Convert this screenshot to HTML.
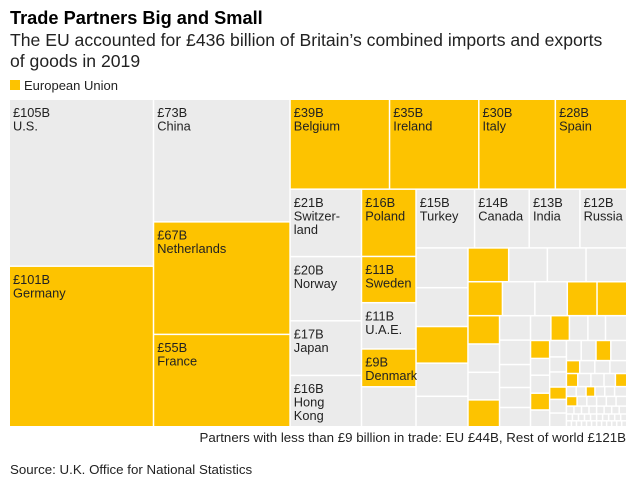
<!DOCTYPE html>
<html><head><meta charset="utf-8"><style>
body{margin:0;background:#fff;font-family:"Liberation Sans",sans-serif;}
#wrap{position:relative;width:634px;height:483px;overflow:hidden;}
</style></head><body>
<div id="wrap">
<svg id="svg" width="634" height="483" viewBox="0 0 634 483">
<text x="10" y="24" font-size="18.2" font-weight="bold" fill="#000">Trade Partners Big and Small</text>
<text x="10" y="46" font-size="17.6" fill="#222">The EU accounted for £436 billion of Britain’s combined imports and exports</text>
<text x="10" y="67" font-size="17.6" fill="#222">of goods in 2019</text>
<rect x="10" y="80" width="10" height="10" fill="#fdc300"/>
<text x="24" y="90" font-size="13" fill="#222">European Union</text>
<g id="cells"></g>
<text x="626" y="442" font-size="13.3" fill="#222" text-anchor="end">Partners with less than £9 billion in trade: EU £44B, Rest of world £121B</text>
<text x="10" y="474" font-size="13.3" fill="#222">Source: U.K. Office for National Statistics</text>
</svg>
</div>
<script>
const names = ["U.S.","Germany","China","Netherlands","France","Belgium","Ireland","Italy","Spain","Switzer-\nland","Norway","Japan","Hong\nKong","Poland","Turkey","Canada","India","Russia","Sweden","U.A.E.","Denmark"];
const values = [105,101,73,67,55,39,35,30,28,21,20,17,16,16,15,14,13,12,11,11,9];
const isEU = [0,1,0,1,1,1,1,1,1,0,0,0,0,1,0,0,0,0,1,0,1];
const smallValues = [9.5,
 9.0,8.8,8.3,7.5,6.9,
 6.0,5.7,5.7,6.0,
 5.1,4.8,4.8,4.4,4.4,
 3.9,3.9,3.8,3.7,
 3.3,3.3,3.1,2.7,2.6,
 2.2,2.0,2.0,1.9,2.3,
 1.5,1.4,1.5,1.4,1.4,
 1.2,1.1,1.1,0.9,1.0,1.0,
 1.3,1.3,1.3,1.4,
 0.75,0.85,0.85,0.95,
 0.65,0.75,0.75,0.65,0.65,
 0.42,0.42,0.38,0.42,0.42,0.52,
 0.45,0.41,0.41,0.41,0.41,0.45,
 0.26,0.26,0.26,0.26,0.26,0.26,0.26,0.26,
 0.18,0.18,0.18,0.18,0.18,0.18,0.18,0.18,0.18,0.18,
 0.13,0.13,0.13,0.13,0.13,0.13,0.13,0.13,0.13,0.13,0.13,0.13];
const smallEU = [0,
 0,0,1,0,0,
 1,0,0,0,
 1,0,0,1,1,
 1,0,0,1,
 0,0,0,0,0,
 0,1,0,0,0,
 1,0,0,1,0,
 0,0,0,1,0,0,
 0,0,1,0,
 1,0,0,0,
 1,0,0,0,1,
 0,0,1,0,0,0,
 1,0,0,0,0,0,
 0,0,0,0,0,0,0,0,
 0,0,0,0,0,0,0,0,0,0,
 0,0,0,0,0,0,0,0,0,0,0,0];

let k=0;
function S(){return {s:k++};}
function G(d,n){const c=[];for(let i=0;i<n;i++)c.push(S());return {d:d,c:c};}
function N(i){return {n:i};}
const tree = {d:'h',c:[
 {d:'v',c:[N(0),N(1)]},
 {d:'v',c:[N(2),N(3),N(4)]},
 {d:'v',c:[
   {d:'h',c:[N(5),N(6),N(7),N(8)]},
   {d:'h',c:[
     {d:'v',c:[N(9),N(10),N(11),N(12)]},
     {d:'v',c:[N(13),N(18),N(19),N(20),S()]},
     {d:'v',c:[
       {d:'h',c:[N(14),N(15),N(16),N(17)]},
       {d:'h',c:[
         G('v',5),
         {d:'v',c:[
           G('h',4),
           G('h',5),
           {d:'h',c:[
             G('v',4),
             G('v',5),
             {d:'v',c:[
               G('h',5),
               {d:'h',c:[
                 G('v',5),
                 G('v',6),
                 {d:'v',c:[G('h',4),G('h',4),G('h',5),G('h',6),G('h',6),G('h',8),G('h',10),G('h',12)]}
               ]}
             ]}
           ]}
         ]}
       ]}
     ]}
   ]}
 ]}
]};
function sum(n){if(n.n!==undefined)return values[n.n];if(n.s!==undefined)return smallValues[n.s];let t=0;for(const c of n.c)t+=sum(c);return t;}
const g=document.getElementById('cells');
const NS='http://www.w3.org/2000/svg';
function draw(n,x,y,w,h){
  if(n.c){
    const t=sum(n);let p=0;
    for(const c of n.c){
      const f=sum(c)/t;
      if(n.d==='h'){draw(c,x+p*w,y,w*f,h);}else{draw(c,x,y+p*h,w,h*f);}
      p+=f;
    }
    return;
  }
  const eu = n.n!==undefined ? isEU[n.n] : smallEU[n.s];
  const r=document.createElementNS(NS,'rect');
  r.setAttribute('x',x);r.setAttribute('y',y);
  r.setAttribute('width',Math.max(0,w-1.5));r.setAttribute('height',Math.max(0,h-1.5));
  r.setAttribute('fill',eu?'#fdc300':'#ebebeb');
  if(n.n!==undefined){
    
  } else {
    
  }
  
  g.appendChild(r);
  if(n.n!==undefined){
    const lines=['£'+values[n.n]+'B'].concat(names[n.n].split('\n'));
    const t=document.createElementNS(NS,'text');
    t.setAttribute('x',x+3);t.setAttribute('y',y+17);
    t.setAttribute('font-size','12.8');t.setAttribute('fill','#222');
    
    
    lines.forEach((l,i)=>{const ts=document.createElementNS(NS,'tspan');ts.setAttribute('x',x+3);ts.setAttribute('dy',i?13.5:0);ts.textContent=l;t.appendChild(ts);});
    g.appendChild(t);
  }
}
draw(tree,10,100,617.5,327.5);
</script>
</body></html>
